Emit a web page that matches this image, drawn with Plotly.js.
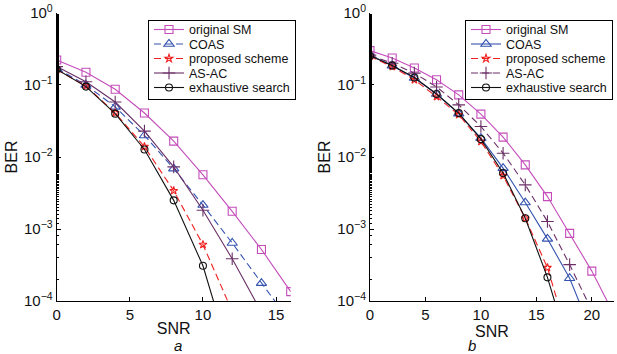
<!DOCTYPE html>
<html><head><meta charset="utf-8">
<script src="https://cdn.plot.ly/plotly-3.0.1.min.js"></script>
<style>html,body{margin:0;padding:0;background:#fff}#chart{width:617px;height:354px}</style>
</head><body><div id="chart"></div>
<script>
// Panel a
const snrA = [0,2,4,6,8,10,12,14,16];
const smA   = [0.222,0.150,0.0874,0.0408,0.0166,0.00566,0.00176,5.2e-4,1.35e-4];
const coasA = [0.17,0.100,0.0496,0.0199,0.0069,0.00215,6.4e-4,1.77e-4,5e-5];
const propA = [0.163,0.097,0.041,0.0139,0.0034,6.07e-4,7.2e-5];
const asacA = [0.18,0.111,0.058,0.0229,0.0073,0.00182,3.86e-4,7e-5];
const exA   = [0.165,0.095,0.040,0.0127,0.0025,3.09e-4,1.35e-5];
// Panel b
const snrB = [0,2,4,6,8,10,12,14,16,18,20,22];
const smB   = [0.30,0.237,0.172,0.118,0.073,0.0394,0.0189,0.00778,0.00282,8.7e-4,2.6e-4,6.5e-5];
const coasB = [0.26,0.185,0.125,0.075,0.040,0.0183,0.0070,0.00233,7.3e-4,2.07e-4,3.6e-5];
const propB = [0.25,0.180,0.118,0.069,0.0386,0.0164,0.0055,0.00141,2.9e-4,2.7e-5];
const asacB = [0.26,0.200,0.146,0.094,0.053,0.0265,0.0113,0.0041,0.00127,3.2e-4,7.4e-5];
const exB   = [0.255,0.187,0.127,0.075,0.0407,0.0177,0.0060,0.00141,2.13e-4,2e-5];

const names = ['original SM','COAS','proposed scheme','AS-AC','exhaustive search'];
const yTickVals = [1,0.1,0.01,0.001,0.0001];
const yTickText = ['10<sup>0</sup>','10<sup>\u22121</sup>','10<sup>\u22122</sup>','10<sup>\u22123</sup>','10<sup>\u22124</sup>'];

const C_SM='#c44dbb', C_COAS='#3553b0', C_PROP='#f02020', C_ASAC='#6a2f66', C_EX='#111111';
const DASH='7px,4px';

function tr(x,y,name,color,dash,symbol,size,xa,ya,leg){
  return {x:x.slice(0,y.length),y:y,name:name,mode:'lines+markers',xaxis:xa,yaxis:ya,legend:leg,
    line:{color:color,width:1.1,dash:dash},
    marker:{symbol:symbol,size:size,color:color,line:{color:color,width:1.1}}};
}
const data = [
  tr(snrA,smA,names[0],C_SM,'solid','square-open',8,'x','y','legend'),
  tr(snrA,coasA,names[1],C_COAS,DASH,'triangle-up-open',9,'x','y','legend'),
  tr(snrA,propA,names[2],C_PROP,DASH,'star-open',6,'x','y','legend'),
  tr(snrA,asacA,names[3],C_ASAC,'solid','cross-thin-open',9,'x','y','legend'),
  tr(snrA,exA,names[4],C_EX,'solid','circle-open',7,'x','y','legend'),
  tr(snrB,smB,names[0],C_SM,'solid','square-open',8,'x2','y2','legend2'),
  tr(snrB,coasB,names[1],C_COAS,'solid','triangle-up-open',9,'x2','y2','legend2'),
  tr(snrB,propB,names[2],C_PROP,DASH,'star-open',6,'x2','y2','legend2'),
  tr(snrB,asacB,names[3],C_ASAC,DASH,'cross-thin-open',9,'x2','y2','legend2'),
  tr(snrB,exB,names[4],C_EX,'solid','circle-open',7,'x2','y2','legend2')
];

const font = {family:'Liberation Sans, Arial, sans-serif', size:14, color:'#111'};
function xax(dom, range, tv, anchor){
  return {domain:dom, range:range, anchor:anchor, showgrid:false, zeroline:false, showline:true, linecolor:'#000', linewidth:1,
    ticks:'inside', ticklen:4, tickcolor:'#000', tickvals:tv, tickfont:{size:15},
    title:{text:'SNR', font:{size:16}, standoff:0}};
}
function yax(anchor){
  return {type:'log', range:[-4,0], domain:[0.1497,0.9633], anchor:anchor, showgrid:false, zeroline:false,
    showline:true, linecolor:'#000', linewidth:1, ticks:'inside', ticklen:4, tickcolor:'#000',
    tickvals:yTickVals, ticktext:yTickText, tickfont:{size:15},
    minor:{ticks:'inside', ticklen:2, tickcolor:'#000', showgrid:false},
    title:{text:'BER', font:{size:16}, standoff:2}};
}
const legBase = {bordercolor:'#000', borderwidth:1, bgcolor:'#fff', xref:'paper', yref:'paper',
  xanchor:'left', yanchor:'top', font:{size:12.5, family:'Liberation Sans, Arial, sans-serif', color:'#111'},
  tracegroupgap:0, itemwidth:30};
const layout = {
  width:617, height:354, margin:{l:0,r:0,t:0,b:0}, paper_bgcolor:'#fff', plot_bgcolor:'#fff',
  font:font, showlegend:true,
  xaxis:xax([56.7/617, 290.7/617],[0,16],[0,5,10,15],'y'),
  yaxis:yax('x'),
  xaxis2:xax([370/617, 614/617],[0,22],[0,5,10,15,20],'y2'),
  yaxis2:yax('x2'),
  legend:Object.assign({}, legBase, {x:148/617, y:1-20/354}),
  legend2:Object.assign({}, legBase, {x:465/617, y:1-20/354}),
  annotations:[
    {text:'<i>a</i>', xref:'paper', yref:'paper', x:172/617, y:0, yanchor:'bottom', height:14, showarrow:false, font:{size:15}},
    {text:'<i>b</i>', xref:'paper', yref:'paper', x:478/617, y:0, yanchor:'bottom', height:14, showarrow:false, font:{size:15}}
  ]
};
Plotly.newPlot('chart', data, layout, {displayModeBar:false, staticPlot:true}).then(function(gd){
  // compact legend rows to match the reference row spacing
  const STEP = 14.5, TOP = 9.5;
  gd.querySelectorAll('.infolayer > g').forEach(function(lg){
    const cls = lg.getAttribute('class') || '';
    if (!/^legend/.test(cls)) return;
    const items = lg.querySelectorAll('g.traces');
    if (!items.length) return;
    items.forEach(function(it, i){
      const t = it.getAttribute('transform') || '';
      const m = t.match(/translate\(\s*([-\d.e]+)[ ,]+([-\d.e]+)\s*\)/);
      const x = m ? parseFloat(m[1]) : 0;
      it.setAttribute('transform', 'translate(' + x + ',' + (TOP + i*STEP) + ')');
    });
    const bg = lg.querySelector('rect.bg');
    if (bg) bg.setAttribute('height', TOP + (items.length-1)*STEP + TOP + 1.5);
  });
});
</script></body></html>
